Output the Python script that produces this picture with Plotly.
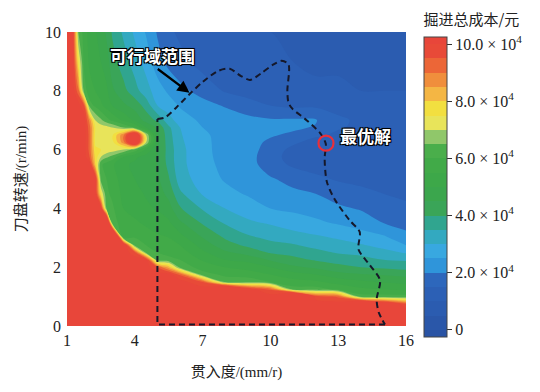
import numpy as np
import plotly.graph_objects as go

# ---------------- data ----------------
penetration = [1, 1.25, 1.5, 1.75, 2, 2.25, 2.5, 2.75, 3, 3.5, 4, 4.5, 5, 5.5, 6,
               7, 8, 9, 10, 11, 12, 13, 14, 15, 16]          # mm/r
rpm = [0, 0.5, 0.75, 1, 1.25, 1.5, 1.75, 2, 2.25, 2.5, 2.75, 3, 3.5, 4, 4.5, 5,
       5.5, 5.75, 6, 6.25, 6.5, 6.75, 7, 7.5, 8, 9, 10]       # r/min

# total excavation cost (x10^4 yuan); one list per penetration column, rpm bottom -> top
cost_by_column = [
    [10.3, 10.3, 10.3, 10.3, 10.3, 10.3, 10.3, 10.3, 10.3, 10.3, 10.3, 10.3, 10.3, 10.3, 10.3, 10.3, 10.3, 10.3, 10.3, 10.3, 10.3, 10.3, 10.3, 10.3, 10.3, 10.3, 10.3],
    [10.3, 10.3, 10.3, 10.3, 10.3, 10.3, 10.3, 10.3, 10.3, 10.3, 10.3, 10.3, 10.3, 10.3, 10.3, 10.3, 10.3, 10.3, 10.3, 10.3, 10.3, 10.3, 10.3, 10.3, 10.3, 10.3, 10.3],
    [10.3, 10.3, 10.3, 10.3, 10.3, 10.3, 10.3, 10.3, 10.3, 10.3, 10.3, 10.3, 10.3, 10.3, 10.3, 10.3, 10.3, 10.3, 10.3, 10.3, 10.3, 10.3, 10.3, 10.3, 9.2, 7.6, 6.5],
    [10.3, 10.3, 10.3, 10.3, 10.3, 10.3, 10.3, 10.3, 10.3, 10.3, 10.3, 10.3, 10.3, 10.3, 10.3, 10.3, 10.3, 10.3, 10.3, 10.3, 10.3, 10.3, 10.3, 9.6, 6.3, 5.9, 5.8],
    [10.3, 10.3, 10.3, 10.3, 10.3, 10.3, 10.3, 10.3, 10.3, 10.3, 10.3, 10.3, 10.3, 10.3, 10.3, 10.3, 10.3, 9.5, 9.3, 9.3, 9.3, 9.2, 8.8, 6.2, 5.7, 5.4, 5.3],
    [10.3, 10.3, 10.3, 10.3, 10.3, 10.3, 10.3, 10.3, 10.3, 10.3, 10.3, 10.3, 10.3, 10.3, 10.3, 10.3, 8.0, 7.8, 7.6, 7.4, 7.4, 7.5, 7.0, 5.9, 5.5, 5.2, 5.05],
    [10.3, 10.3, 10.3, 10.3, 10.3, 10.3, 10.3, 10.3, 10.3, 10.3, 10.3, 10.3, 10.3, 10.3, 7.5, 6.3, 6.1, 7.0, 7.5, 7.3, 7.2, 7.3, 6.6, 5.6, 5.3, 5.0, 4.8],
    [10.3, 10.3, 10.3, 10.3, 10.3, 10.3, 10.3, 10.3, 10.3, 10.3, 10.3, 10.3, 13.0, 6.3, 6.1, 6.0, 5.8, 6.6, 7.4, 7.2, 7.2, 7.2, 6.2, 5.3, 5.1, 4.75, 4.4],
    [10.3, 10.3, 10.3, 10.3, 10.3, 10.3, 10.3, 10.3, 10.3, 10.3, 10.3, 16.0, 6.3, 6.1, 5.9, 5.8, 5.6, 6.3, 7.3, 7.3, 7.4, 7.0, 5.9, 5.0, 4.6, 4.2, 3.95],
    [10.3, 10.3, 10.3, 10.3, 10.3, 10.3, 10.3, 10.3, 10.3, 10.3, 11.2, 6.0, 5.7, 5.5, 5.35, 5.2, 5.1, 5.5, 7.0, 8.8, 8.9, 6.5, 5.4, 4.6, 4.15, 3.75, 3.4],
    [10.3, 10.3, 10.3, 10.3, 10.3, 10.3, 10.3, 10.3, 10.3, 9.7, 6.2, 6.0, 5.6, 5.3, 5.15, 5.0, 4.9, 5.1, 6.3, 11.5, 11.5, 6.0, 4.9, 4.3, 3.7, 3.25, 2.9],
    [10.3, 10.3, 10.3, 10.3, 10.3, 10.3, 10.3, 10.3, 10.3, 6.3, 6.0, 5.8, 5.4, 5.1, 4.95, 4.8, 4.75, 4.8, 5.4, 7.0, 7.0, 5.0, 4.3, 3.8, 3.2, 2.8, 2.45],
    [10.3, 10.3, 10.3, 10.3, 10.3, 10.3, 10.3, 9.5, 6.2, 6.0, 5.8, 5.6, 5.25, 4.95, 4.75, 4.6, 4.5, 4.5, 4.55, 4.6, 4.6, 4.4, 3.9, 3.0, 2.75, 2.2, 1.95],
    [10.3, 10.3, 10.3, 10.3, 10.3, 10.3, 10.3, 8.3, 6.1, 5.9, 5.7, 5.5, 5.1, 4.7, 4.35, 4.05, 3.85, 3.8, 3.8, 3.75, 3.7, 3.6, 3.2, 2.75, 2.4, 1.85, 1.6],
    [10.3, 10.3, 10.3, 10.3, 10.3, 10.3, 9.4, 6.3, 6.0, 5.75, 5.5, 5.2, 4.6, 4.05, 3.6, 3.25, 3.15, 3.15, 3.15, 3.1, 3.05, 3.0, 2.75, 2.45, 2.15, 1.65, 1.4],
    [10.3, 10.3, 10.3, 10.3, 10.3, 9.5, 6.2, 5.8, 5.45, 5.1, 4.8, 4.5, 3.95, 3.45, 2.95, 2.75, 2.65, 2.62, 2.6, 2.58, 2.55, 2.5, 2.4, 2.2, 1.8, 1.3, 1.2],
    [10.3, 10.3, 10.3, 10.3, 13.0, 6.3, 5.9, 5.5, 5.0, 4.6, 4.2, 3.95, 3.45, 3.0, 2.65, 2.45, 2.38, 2.36, 2.36, 2.38, 2.4, 2.4, 2.3, 1.95, 1.45, 1.15, 1.1],
    [10.3, 10.3, 10.3, 10.3, 10.3, 6.3, 5.8, 5.3, 4.85, 4.3, 3.9, 3.6, 3.1, 2.75, 2.45, 2.3, 2.2, 2.2, 2.2, 2.2, 2.22, 2.22, 2.15, 1.7, 1.3, 1.1, 1.0],
    [10.3, 10.3, 10.3, 10.3, 9.4, 6.0, 5.5, 5.0, 4.45, 3.95, 3.65, 3.4, 2.95, 2.5, 2.3, 2.05, 1.75, 1.7, 1.8, 1.9, 2.06, 2.12, 2.06, 1.5, 1.2, 1.05, 1.0],
    [10.3, 10.3, 10.3, 14.0, 6.2, 5.7, 5.2, 4.6, 4.15, 3.85, 3.55, 3.25, 2.75, 2.4, 2.1, 1.85, 1.4, 1.3, 1.35, 1.6, 1.9, 2.1, 2.06, 1.4, 1.1, 1.0, 0.95],
    [10.3, 10.3, 10.3, 9.8, 6.2, 5.6, 5.0, 4.4, 3.95, 3.65, 3.35, 3.1, 2.6, 2.3, 2.0, 1.6, 1.3, 1.2, 1.2, 1.3, 1.6, 1.95, 2.05, 1.4, 1.05, 0.95, 0.95],
    [10.3, 10.3, 10.3, 9.4, 5.9, 5.3, 4.7, 4.15, 3.8, 3.45, 3.2, 2.95, 2.45, 2.1, 1.75, 1.45, 1.3, 1.25, 1.25, 1.3, 1.4, 1.55, 1.6, 1.3, 1.05, 0.95, 0.9],
    [10.3, 10.3, 13.0, 6.2, 5.6, 5.1, 4.55, 4.0, 3.7, 3.35, 3.05, 2.75, 2.3, 1.95, 1.6, 1.4, 1.3, 1.3, 1.3, 1.3, 1.35, 1.4, 1.4, 1.2, 1.0, 0.9, 0.9],
    [10.3, 10.3, 11.05, 6.2, 5.5, 4.95, 4.45, 3.9, 3.5, 3.15, 2.85, 2.6, 2.0, 1.7, 1.5, 1.4, 1.35, 1.3, 1.3, 1.3, 1.3, 1.3, 1.3, 1.15, 1.0, 0.9, 0.9],
    [10.3, 10.3, 9.55, 6.2, 5.4, 4.85, 4.35, 3.8, 3.45, 2.95, 2.5, 2.2, 1.8, 1.55, 1.45, 1.4, 1.35, 1.3, 1.3, 1.3, 1.3, 1.3, 1.3, 1.1, 1.0, 0.9, 0.9],
]

# feasible-region boundary (dashed)
region_edge_x = [15.07, 5.0, 5.0]
region_edge_y = [0.05, 0.05, 7.04]
region_curve_x = [5.0, 5.35, 5.86, 6.44, 7.0, 7.7, 8.2, 8.7, 9.1, 9.6, 10.1, 10.5, 10.8,
                  10.75, 10.8, 10.96, 11.6, 12.2, 12.45, 12.4, 12.5, 12.85, 13.5, 13.95,
                  13.9, 14.4, 14.85, 14.7, 14.8, 15.07]
region_curve_y = [7.04, 7.1, 7.45, 7.9, 8.3, 8.68, 8.75, 8.5, 8.37, 8.6, 8.88, 9.02, 8.9,
                  8.0, 7.6, 7.4, 7.0, 6.56, 6.2, 5.7, 4.9, 4.3, 3.6, 3.2,
                  2.6, 2.07, 1.56, 0.9, 0.45, 0.05]

optimum_x = [12.46]
optimum_y = [6.22]

x_ticks = [1, 4, 7, 10, 13, 16]
y_ticks = [0, 2, 4, 6, 8, 10]
cbar_ticks = [0, 2, 4, 6, 8, 10]
cbar_labels = ["0", "2.0 × 10<sup>4</sup>", "4.0 × 10<sup>4</sup>", "6.0 × 10<sup>4</sup>",
               "8.0 × 10<sup>4</sup>", "10.0 × 10<sup>4</sup>"]

# band colours, lowest band first (bands of 0.5 x10^4)
band_colors = ["#2953a4", "#2a57a9", "#2b5cb0", "#2c60b5", "#2d67bc", "#2f95da",
               "#38a8e0", "#33a9c0", "#30a58f", "#3aa558", "#3ba64d", "#3da849",
               "#41aa48", "#4aae4b", "#90c76a", "#e8e45a", "#f2df40", "#f4b644",
               "#f08e3c", "#ec6637", "#e84a38", "#e8463a"]

# ---------------- figure ----------------
z = np.array(cost_by_column).T.tolist()
n = len(band_colors) - 1
colorscale = [[i / n, c] for i, c in enumerate(band_colors)]

serif = "Liberation Serif, Noto Sans CJK SC"
cjk = "Noto Sans CJK SC"
outline = "-1px -1px 0 #000, 1px -1px 0 #000, -1px 1px 0 #000, 1px 1px 0 #000, 0 0 2px #000"

fig = go.Figure()
fig.add_trace(go.Contour(
    x=penetration, y=rpm, z=z,
    colorscale=colorscale,
    autocontour=False,
    contours=dict(start=0, end=10, size=0.5, coloring="fill", showlines=False),
    line=dict(width=0, smoothing=1.0),
    colorbar=dict(
        title=dict(text="掘进总成本/元", side="top", font=dict(family=cjk, size=15, color="#222")),
        tickvals=cbar_ticks, ticktext=cbar_labels,
        tickfont=dict(family=serif, size=16, color="#222"),
        ticks="outside", ticklen=5, tickcolor="#333",
        thickness=23, len=1.108, lenmode="fraction",
        x=1.053, xanchor="left", xpad=0,
        y=0.517, yanchor="middle", ypad=0,
        outlinewidth=1, outlinecolor="#444",
    ),
    hoverinfo="skip",
))

dash_line = dict(color="#15182a", width=2, dash="6px,4px")
fig.add_trace(go.Scatter(x=region_edge_x, y=region_edge_y, mode="lines",
                         line=dash_line, showlegend=False, hoverinfo="skip"))
fig.add_trace(go.Scatter(x=region_curve_x, y=region_curve_y, mode="lines",
                         line=dict(shape="spline", smoothing=0.8, **dash_line),
                         showlegend=False, hoverinfo="skip"))
fig.add_trace(go.Scatter(x=optimum_x, y=optimum_y, mode="markers",
                         marker=dict(symbol="circle-open", size=15, color="#e8303a",
                                     line=dict(width=2.2, color="#e8303a")),
                         showlegend=False, hoverinfo="skip"))

fig.add_annotation(x=4.78, y=9.2, text="可行域范围", showarrow=False,
                   font=dict(family=cjk, size=17, color="white", weight="bold", shadow=outline))
fig.add_annotation(x=6.42, y=7.93, ax=4.95, ay=8.78, axref="x", ayref="y",
                   text="", showarrow=True, arrowhead=2, arrowsize=1.1,
                   arrowwidth=2.2, arrowcolor="#000")
fig.add_annotation(x=14.2, y=6.47, text="最优解", showarrow=False,
                   font=dict(family=cjk, size=17, color="white", weight="bold", shadow=outline))

fig.update_xaxes(range=[1, 16], tickvals=x_ticks, showgrid=False, zeroline=False,
                 ticks="", ticklabelstandoff=3, automargin=False,
                 tickfont=dict(family=serif, size=16, color="#222"),
                 title=dict(text="贯入度/(mm/r)", standoff=18,
                            font=dict(family=serif, size=15, color="#222")))
fig.update_yaxes(range=[0, 10], tickvals=y_ticks, showgrid=False, zeroline=False,
                 ticks="", ticklabelstandoff=5, automargin=False,
                 tickfont=dict(family=serif, size=16, color="#222"),
                 title=dict(text="刀盘转速/(r/min)", standoff=14,
                            font=dict(family=serif, size=15, color="#222")))

# the page body adds an 8px offset, so the figure is 532x384 inside the 540x392 window
fig.update_layout(width=532, height=384,
                  margin=dict(l=59, r=134, t=24, b=66, autoexpand=False),
                  paper_bgcolor="white", plot_bgcolor="white",
                  showlegend=False)

fig.write_html("out.html")
